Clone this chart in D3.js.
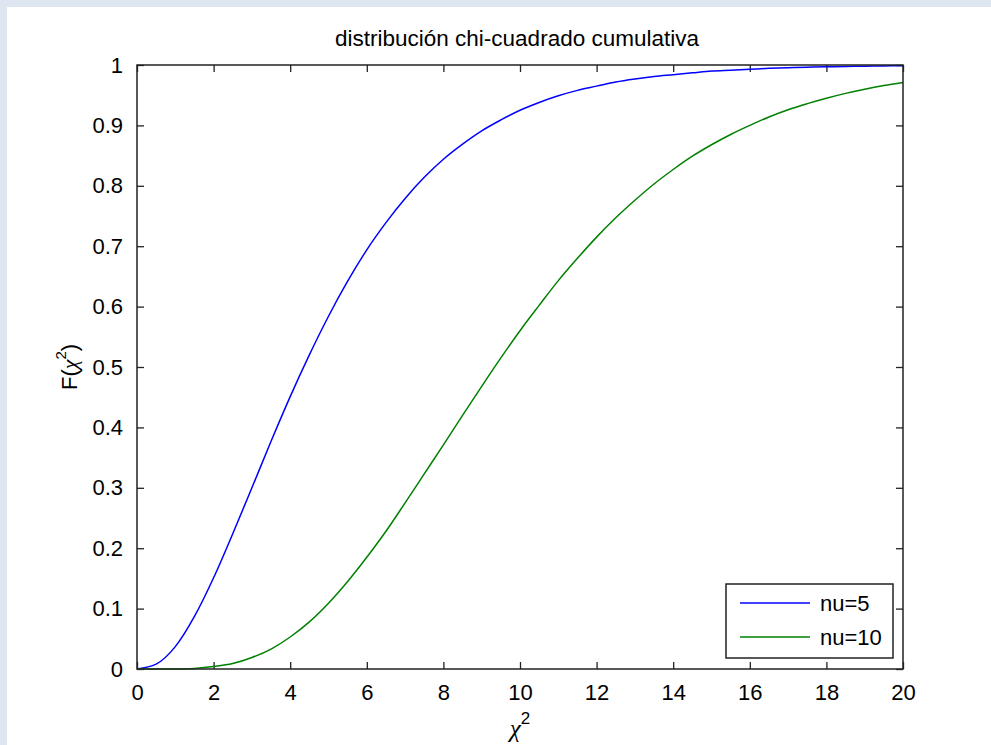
<!DOCTYPE html>
<html>
  <head>
    <meta charset="UTF-8">
    <script src="https://d3js.org/d3.v7.min.js"></script>
    <style>
      body { margin: 0; background: #dde6f1; }
      svg text { font-family: Arial, "Liberation Sans", sans-serif; fill: #000; }
      .axis .domain { display: none; }
      .axis line { stroke: #222; stroke-width: 1.3; }
      .axis text { font-size: 22px; }
      .greek { font-family: "Liberation Serif", "DejaVu Serif", serif; font-style: italic; }
    </style>
    <title>distribución chi-cuadrado cumulativa</title>
  </head>
  <body>
    <svg id="chart" width="991" height="745"></svg>
    <script>
      // x values (chi^2) read every 0.5
      const xs = [0, 0.5, 1, 1.5, 2, 2.5, 3, 3.5, 4, 4.5, 5, 5.5, 6, 6.5, 7, 7.5, 8, 8.5, 9, 9.5,
                  10, 10.5, 11, 11.5, 12, 12.5, 13, 13.5, 14, 14.5, 15, 15.5, 16, 16.5, 17, 17.5,
                  18, 18.5, 19, 19.5, 20];
      // F(chi^2) nu=5
      const nu5 = [0, 0.008, 0.037, 0.087, 0.151, 0.224, 0.300, 0.377, 0.451, 0.520, 0.584, 0.642,
                   0.694, 0.739, 0.779, 0.814, 0.844, 0.869, 0.891, 0.909, 0.925, 0.938, 0.949,
                   0.958, 0.965, 0.972, 0.977, 0.981, 0.984, 0.987, 0.990, 0.9915, 0.993, 0.9945,
                   0.9955, 0.9964, 0.9971, 0.9976, 0.9981, 0.9985, 0.9988];
      // F(chi^2) nu=10
      const nu10 = [0, 0.000, 0.000, 0.001, 0.004, 0.009, 0.019, 0.033, 0.053, 0.078, 0.109, 0.145,
                    0.185, 0.228, 0.275, 0.323, 0.371, 0.420, 0.468, 0.515, 0.560, 0.602, 0.643,
                    0.680, 0.715, 0.747, 0.776, 0.803, 0.827, 0.849, 0.868, 0.885, 0.900, 0.914,
                    0.926, 0.936, 0.945, 0.953, 0.960, 0.966, 0.971];
      const xTicks = [0, 2, 4, 6, 8, 10, 12, 14, 16, 18, 20];
      const yTicks = [0, 0.1, 0.2, 0.3, 0.4, 0.5, 0.6, 0.7, 0.8, 0.9, 1];
      const series = [
        {name: "nu=5", values: nu5, color: "#0000ff"},
        {name: "nu=10", values: nu10, color: "#008000"}
      ];

      const svg = d3.select("svg#chart");
      const margin = {top: 65, right: 88, bottom: 76, left: 137};
      const width = +svg.attr("width");
      const height = +svg.attr("height");
      const chartWidth = width - margin.left - margin.right;
      const chartHeight = height - margin.top - margin.bottom;

      // white figure area inside the light blue frame
      svg.append("rect").attr("x", 7).attr("y", 7)
         .attr("width", width - 7).attr("height", height - 7).attr("fill", "white");

      const xScale = d3.scaleLinear().domain([0, 20]).range([0, chartWidth]);
      const yScale = d3.scaleLinear().domain([0, 1]).range([chartHeight, 0]);

      const plot = svg.append("g")
                      .attr("transform", "translate(" + margin.left + "," + margin.top + ")");

      const tickLen = 7;
      // ticks point inward on all four sides
      plot.append("g").attr("class", "axis")
          .attr("transform", "translate(0," + chartHeight + ")")
          .call(d3.axisBottom(xScale).tickValues(xTicks).tickSize(-tickLen).tickPadding(15).tickFormat(d3.format("d")));
      plot.append("g").attr("class", "axis")
          .call(d3.axisTop(xScale).tickValues(xTicks).tickSize(-tickLen).tickFormat(""));
      plot.append("g").attr("class", "axis")
          .call(d3.axisLeft(yScale).tickValues(yTicks).tickSize(-tickLen).tickPadding(14).tickFormat(d => d === 0 || d === 1 ? d3.format("d")(d) : d3.format(".1f")(d)));
      plot.append("g").attr("class", "axis")
          .attr("transform", "translate(" + chartWidth + ",0)")
          .call(d3.axisRight(yScale).tickValues(yTicks).tickSize(-tickLen).tickFormat(""));

      const line = d3.line()
                     .x((d, i) => xScale(xs[i]))
                     .y(d => yScale(d))
                     .curve(d3.curveMonotoneX);

      plot.selectAll("path.series").data(series).enter()
          .append("path")
          .attr("class", "series")
          .attr("fill", "none")
          .attr("stroke", d => d.color)
          .attr("stroke-width", 1.5)
          .attr("d", d => line(d.values));

      // axes box
      plot.append("rect")
          .attr("width", chartWidth).attr("height", chartHeight)
          .attr("fill", "none").attr("stroke", "#222").attr("stroke-width", 1.5);

      // title
      svg.append("text")
         .attr("x", margin.left + chartWidth / 2 - 3).attr("y", 46)
         .attr("text-anchor", "middle").attr("font-size", 22.5)
         .text("distribución chi-cuadrado cumulativa");

      // x label
      const xl = svg.append("text")
         .attr("x", margin.left + chartWidth / 2).attr("y", 737)
         .attr("text-anchor", "middle").attr("font-size", 25);
      xl.append("tspan").attr("class", "greek").text("χ");
      xl.append("tspan").attr("font-size", 17).attr("dy", -13).text("2");

      // y label
      const yl = svg.append("text")
         .attr("transform", "translate(77," + (margin.top + chartHeight / 2) + ") rotate(-90)")
         .attr("text-anchor", "middle").attr("font-size", 22);
      yl.append("tspan").text("F(");
      yl.append("tspan").attr("class", "greek").text("χ");
      yl.append("tspan").attr("font-size", 15).attr("dy", -11).text("2");
      yl.append("tspan").attr("dy", 11).text(")");

      // legend
      const legend = svg.append("g").attr("transform", "translate(726,584)");
      legend.append("rect").attr("width", 167).attr("height", 74)
            .attr("fill", "white").attr("stroke", "#222").attr("stroke-width", 1.5);
      const items = legend.selectAll("g.item").data(series).enter()
            .append("g").attr("class", "item")
            .attr("transform", (d, i) => "translate(0," + (19 + i * 34) + ")");
      items.append("line").attr("x1", 14).attr("x2", 84)
           .attr("stroke", d => d.color).attr("stroke-width", 1.5);
      items.append("text").attr("x", 94).attr("dy", "0.35em").attr("font-size", 22)
           .text(d => d.name);
    </script>
  </body>
</html>
